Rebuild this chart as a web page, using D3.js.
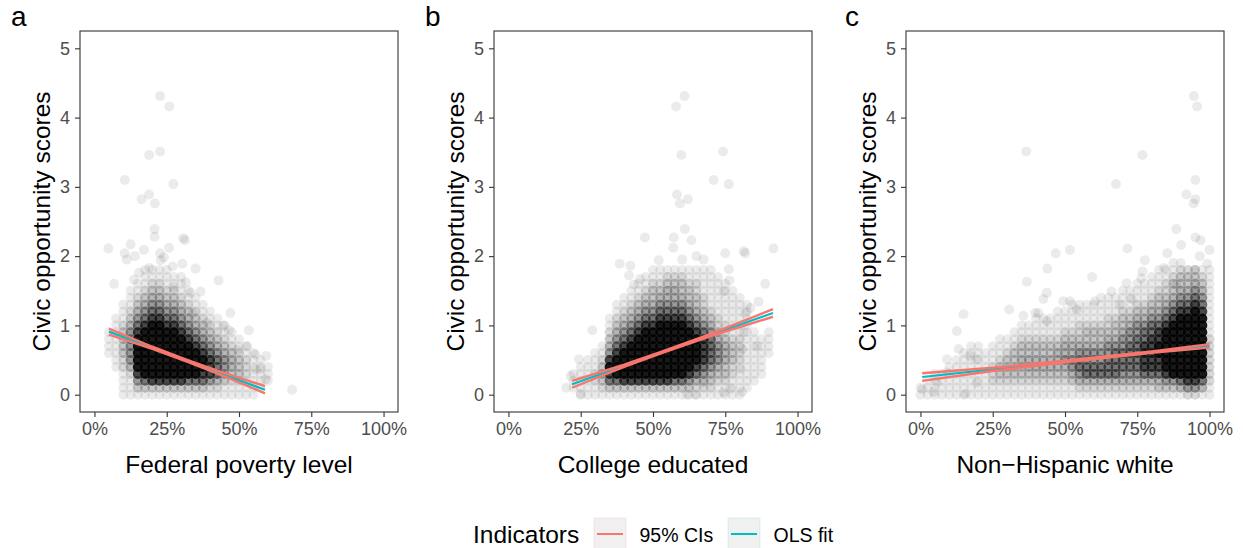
<html><head>
<meta charset="utf-8">
<script src="https://d3js.org/d3.v7.min.js"></script>
<style>
  body { margin: 0; background: #fff; }
  svg text { font-family: "Liberation Sans", Arial, sans-serif; }
  .axis text { fill: #4d4d4d; font-size: 18px; }
  .axis line { stroke: #333; stroke-width: 1.1; }
  .axis .domain { display: none; }
</style>
</head>
<body>
<svg id="chart" width="1243" height="548"></svg>
<script>
// Density of points: one string per x column (step 2.5%),
// one digit per y row (0.0, 0.1, ... 1.9). Digit = darkness level 0-9.
const gridStart = [5, 20, 0];
const gridA = [
  "000000111100",
  "0000112222110",
  "1112334444321100",
  "1123566666543211",
  "14689999987654321",
  "1479999999876543211",
  "1489999999987654321",
  "1489999999987654321",
  "1489999999876543211",
  "148999999987654321",
  "14899999987654321",
  "1479999987654321",
  "147999987654321",
  "14789987654321",
  "1368887654321",
  "135777654321",
  "12456654321",
  "1234554321",
  "123444321",
  "12233321",
  "1122221",
  "011211",
  "00111"
];
const gridB = [
  "01",
  "0111",
  "11211",
  "122211",
  "1233211",
  "13454321",
  "147898654321",
  "14799987654321",
  "148999987654321",
  "1489999987654321",
  "14899999987654321",
  "148999999987654321",
  "1489999999876544321",
  "1489999999987654321",
  "1489999999987655432",
  "1479999999987655432",
  "1479999999987654432",
  "1468999999876544321",
  "1357899998765443321",
  "1346788887654332211",
  "1345677776543221111",
  "123456665433211111",
  "12344555433221111",
  "1123344432221111",
  "112223333221111",
  "01112222111111",
  "0011111111",
  "000111111",
  "0000001111"
];
const gridC = [
  "11",
  "111",
  "1111",
  "1111",
  "11211",
  "112111",
  "1121111",
  "12221111",
  "12222111",
  "1222211",
  "12333211",
  "123443211",
  "123444321",
  "1234444321",
  "12344544311",
  "12345544321",
  "123455443211",
  "123455443211",
  "123455443211",
  "1234555432111",
  "1234565543211",
  "12456655432111",
  "13567665433211",
  "13577665443211",
  "13577665443221",
  "135776654432211",
  "135777665433211",
  "135777765443211",
  "1356777665443211",
  "1356777766543211",
  "13567777766543211",
  "13578888776543211",
  "135788888776543211",
  "1457889988765443211",
  "2468999999876543321",
  "24699999999876544321",
  "25799999999987654432",
  "3689999999998765443",
  "3689999999999876544",
  "2579999999998765432",
  "1233333332222111111"
];

// Single points outside the dense cloud: [percent, score]
const extraA = [[22.7,4.31],[25.9,4.16],[18.9,3.46],[22.7,3.51],[10.5,3.10],[27.3,3.04],[16.3,2.82],[18.9,2.89],[20.9,2.76],[20.8,2.39],[20.8,2.28],[30.7,2.26],[31.3,2.23],[4.8,2.11],[10.5,2.04],[12.5,2.17],[17.1,2.09],[25.8,2.12],[22.7,2.04],[22.9,1.94],[11.2,1.95],[35.0,1.82],[30.4,1.89],[6.8,1.60],[42.9,1.65],[30.0,1.70],[33.2,1.47],[53.4,0.93],[52.8,0.70],[49.6,0.65],[55.7,0.58],[59.4,0.56],[68.4,0.07],[59.2,0.22],[57.4,0.37],[55.7,0.37],[47.0,1.18],[39.0,1.04],[44.5,1.00],[46.5,0.93],[34.0,1.18],[36.7,1.49],[31.6,1.62],[15.4,1.76],[13.7,1.66],[27.4,1.55],[14.0,2.00],[19.0,1.83],[24.0,1.98],[27.0,1.85]];
const extraB = [[60.9,4.31],[58.0,4.16],[74.2,3.51],[59.8,3.46],[71.0,3.10],[76.2,3.04],[58.3,2.89],[62.1,2.82],[59.3,2.76],[61.0,2.39],[47.2,2.27],[57.2,2.27],[63.3,2.23],[91.7,2.11],[81.4,2.07],[75.0,2.04],[81.9,2.04],[57.0,2.12],[60.1,1.95],[52.0,1.94],[67.5,1.95],[65.0,2.00],[38.5,1.89],[42.2,1.86],[41.7,1.72],[45.5,1.67],[43.4,1.59],[88.8,1.60],[76.2,1.81],[76.4,1.65],[74.5,1.49],[86.5,1.34],[83.7,1.25],[86.0,0.70],[80.8,0.04],[74.5,0.03],[76.8,0.09],[29.0,0.93],[25.0,0.01],[21.5,0.27],[24.4,0.51],[80.2,0.37],[80.8,0.66],[64.7,0.0],[61.8,0.0],[69.8,0.66],[67.5,0.18],[81.4,0.90],[82.0,1.18]];
const extraC = [[94.6,4.31],[95.7,4.16],[36.6,3.51],[76.8,3.46],[95.1,3.10],[67.6,3.04],[92.0,2.89],[95.1,2.82],[94.5,2.76],[88.5,2.39],[95.1,2.27],[96.9,2.23],[90.2,2.16],[100,2.09],[46.8,2.04],[51.7,2.09],[71.6,2.11],[85.4,2.04],[77.6,1.94],[99.2,1.89],[96.6,2.0],[43.9,1.82],[36.8,1.63],[59.4,1.70],[76.8,1.78],[84.3,1.83],[71.3,1.61],[76.4,1.68],[88.5,1.59],[43.7,1.47],[42.5,1.38],[66.1,1.49],[49.4,1.35],[51.7,1.35],[30.7,1.23],[39.7,1.18],[40.8,1.18],[35.6,1.14],[14.9,1.16],[12.6,0.92],[43.7,1.06],[54.0,1.23],[60.3,1.35],[69.0,1.30],[73.0,1.38],[9.2,0.51],[13.2,0.66],[0.6,0.08],[4.6,0.04],[9.2,0.32],[17.2,0.56],[19.5,0.51],[5.7,0.18],[15.5,0.01],[19.5,0.18]];

// OLS fit line and 95% CI bounds
const fitXA = [5, 59],    fitYA = [0.91, 0.07];
const fitXB = [22, 91.5], fitYB = [0.15, 1.18];
const fitXC = [0.6, 100], fitYC = [0.255, 0.705];
const ciXA = [5, 20, 32, 45, 59],     ciLoA = [0.866, 0.662, 0.478, 0.265, 0.020], ciHiA = [0.954, 0.692, 0.502, 0.311, 0.125];
const ciXB = [22, 40, 53, 70, 91.5],  ciLoB = [0.100, 0.402, 0.600, 0.847, 1.125], ciHiB = [0.200, 0.432, 0.620, 0.877, 1.235];
const ciXC = [0.6, 25, 50, 80, 100],  ciLoC = [0.200, 0.342, 0.466, 0.605, 0.680], ciHiC = [0.310, 0.388, 0.490, 0.623, 0.730];

const panelTags = ["a", "b", "c"];
const xTitles = ["Federal poverty level", "College educated", "Non\u2212Hispanic white"];
const yTitle = "Civic opportunity scores";
const xTicks = [0, 25, 50, 75, 100];
const yTicks = [0, 1, 2, 3, 4, 5];
const legendLabels = ["95% CIs", "OLS fit"];

const red = "#F8766D", teal = "#00BFC4";
const levelCount = [0, 1, 1, 2, 3, 4, 6, 9, 15, 28]; // observations per cell
const alpha = 0.08;

let svg = d3.select("#chart");
let panelLeft = [80, 494, 906];
let panelTop = 31, panelW = 318, panelH = 381;
let tagX = [11, 425, 845];

let grids = [gridA, gridB, gridC];
let extras = [extraA, extraB, extraC];
let fits = [[fitXA, fitYA], [fitXB, fitYB], [fitXC, fitYC]];
let cis = [[ciXA, ciLoA, ciHiA], [ciXB, ciLoB, ciHiB], [ciXC, ciLoC, ciHiC]];

let xScale = d3.scaleLinear().domain([-5, 105]).range([0, panelW]);
let yScale = d3.scaleLinear().domain([-0.25, 5.25]).range([panelH, 0]);

for (let p = 0; p < 3; p++) {
  let g = svg.append("g").attr("transform", "translate(" + panelLeft[p] + "," + panelTop + ")");

  // dense cloud
  let cells = [];
  grids[p].forEach((col, i) => {
    for (let j = 0; j < col.length; j++) {
      let lev = +col[j];
      if (lev > 0) cells.push({ x: gridStart[p] + 2.5 * i, y: j / 10, n: levelCount[lev] });
    }
  });
  g.append("g").selectAll("circle").data(cells).join("circle")
    .attr("cx", d => xScale(d.x))
    .attr("cy", d => yScale(d.y))
    .attr("r", 5)
    .attr("fill", "#000")
    .attr("fill-opacity", d => 1 - Math.pow(1 - alpha, d.n));

  // single points
  g.append("g").selectAll("circle").data(extras[p]).join("circle")
    .attr("cx", d => xScale(d[0]))
    .attr("cy", d => yScale(d[1]))
    .attr("r", 5)
    .attr("fill", "#000")
    .attr("fill-opacity", alpha);

  // fit then CI lines on top
  let line = d3.line().x(d => xScale(d[0])).y(d => yScale(d[1]));
  let fx = fits[p][0], fy = fits[p][1];
  g.append("path").attr("d", line(fx.map((x, i) => [x, fy[i]])))
    .attr("stroke", teal).attr("stroke-width", 2.2).attr("fill", "none");
  let cx = cis[p][0];
  [cis[p][1], cis[p][2]].forEach(arr => {
    g.append("path").attr("d", line(cx.map((x, i) => [x, arr[i]])))
      .attr("stroke", red).attr("stroke-width", 2.4).attr("fill", "none");
  });

  // border
  g.append("rect").attr("width", panelW).attr("height", panelH)
    .attr("fill", "none").attr("stroke", "#333").attr("stroke-width", 1.1);

  // axes
  g.append("g").attr("class", "axis")
    .call(d3.axisLeft(yScale).tickValues(yTicks).tickSize(5).tickPadding(5).tickFormat(d3.format("d")));
  g.append("g").attr("class", "axis").attr("transform", "translate(0," + panelH + ")")
    .call(d3.axisBottom(xScale).tickValues(xTicks).tickSize(5).tickPadding(5).tickFormat(d => d + "%"));

  // titles
  svg.append("text").attr("x", panelLeft[p] + panelW / 2).attr("y", 473)
    .attr("text-anchor", "middle").attr("font-size", 24.5).text(xTitles[p]);
  svg.append("text")
    .attr("transform", "translate(" + (panelLeft[p] - 30) + "," + (panelTop + panelH / 2) + ") rotate(-90)")
    .attr("text-anchor", "middle").attr("font-size", 24.5).text(yTitle);
  svg.append("text").attr("x", tagX[p]).attr("y", 26).attr("font-size", 28).text(panelTags[p]);
}

// legend
let leg = svg.append("g");
leg.append("text").attr("x", 473).attr("y", 543).attr("font-size", 24.5).text("Indicators");
let keyX = [594, 728];
let keyColors = [red, teal];
legendLabels.forEach((lab, i) => {
  leg.append("rect").attr("x", keyX[i]).attr("y", 518).attr("width", 32).attr("height", 32)
    .attr("fill", "#f0f0f0").attr("stroke", keyColors[i]).attr("stroke-opacity", 0.15);
  leg.append("line").attr("x1", keyX[i] + 3).attr("x2", keyX[i] + 29)
    .attr("y1", 534).attr("y2", 534).attr("stroke", keyColors[i]).attr("stroke-width", 2);
  leg.append("text").attr("x", keyX[i] + 45.5).attr("y", 541.5).attr("font-size", 19.5).text(lab);
});
</script>
</body>
</html>
